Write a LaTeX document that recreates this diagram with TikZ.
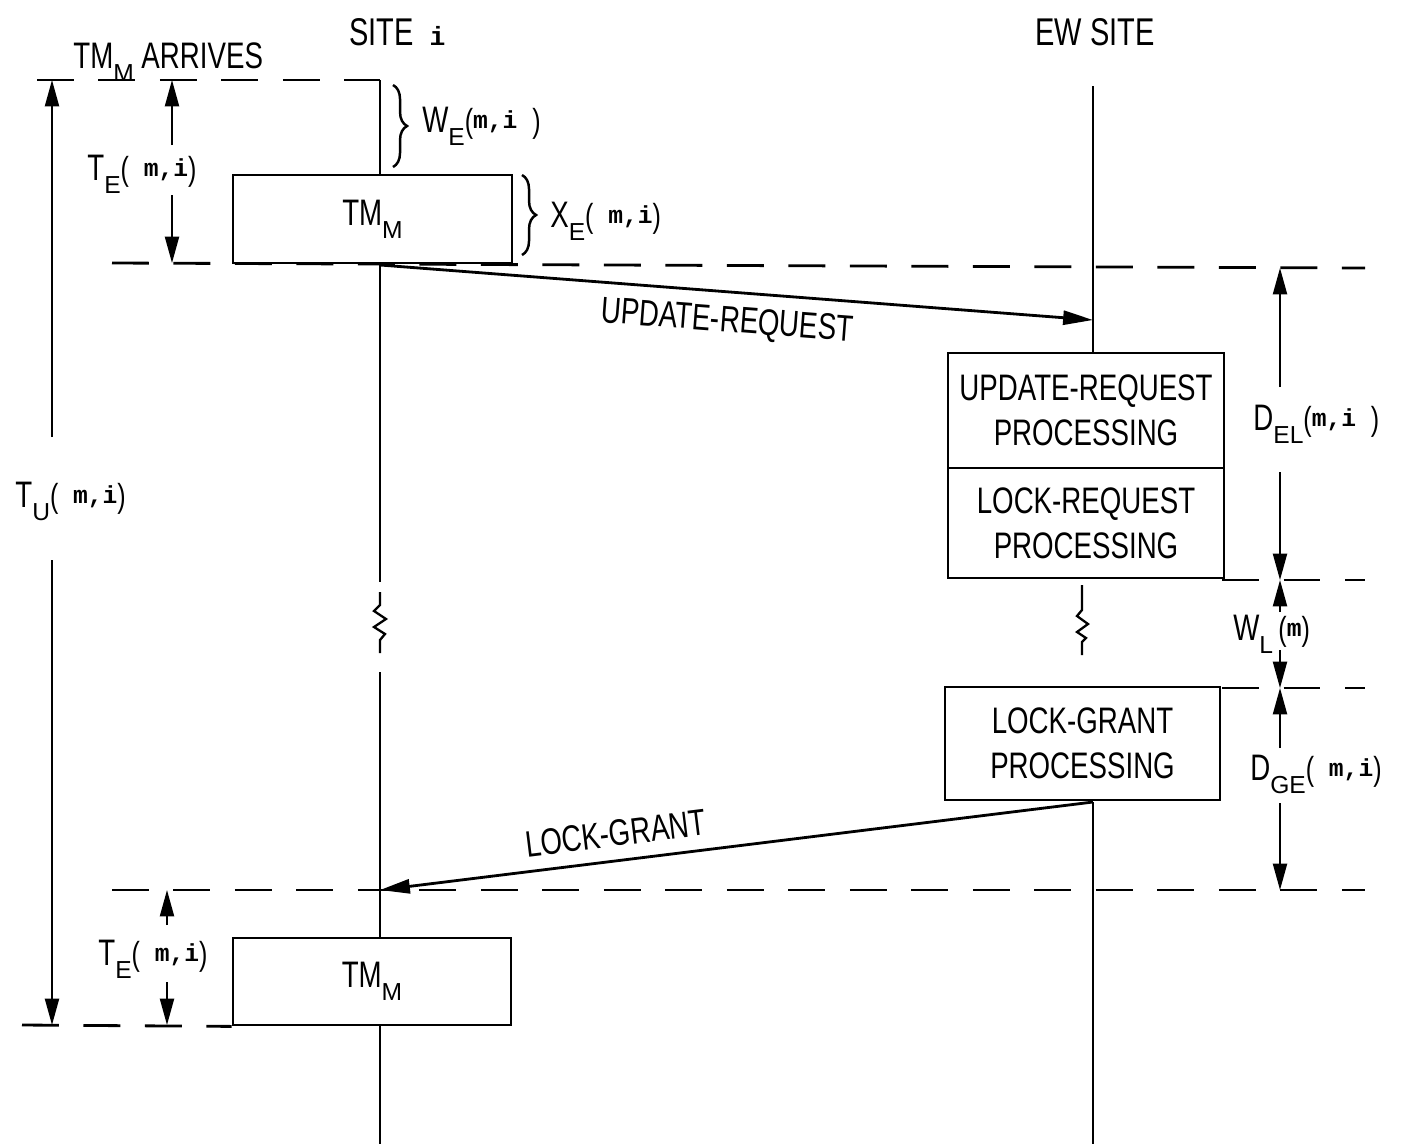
\documentclass[tikz,border=0pt]{standalone}
\usepackage{fontspec}
\setmainfont[FakeStretch=0.75]{Liberation Sans}
\newfontfamily\monof{Liberation Mono}
\newfontfamily\subf{Liberation Sans}
\usetikzlibrary{arrows.meta,decorations.pathreplacing}
\newcommand\mainsz{\fontsize{21}{25.5}\selectfont}
\newcommand\headsz{\fontsize{22}{25}\selectfont}
\newcommand\lowsub[1]{\raisebox{-7.5pt}{\subf\fontsize{14}{14}\selectfont #1}}
\newcommand\argsm[1]{{\fontsize{19}{19}\selectfont(}\raisebox{2pt}{\monof\bfseries\fontsize{14}{14}\selectfont #1}{\fontsize{19}{19}\selectfont)}}
\tikzset{
  life/.style={line width=1.3pt},
  procbox/.style={draw, line width=1.6pt, inner sep=0pt, align=center, font=\mainsz},
  dashline/.style={line width=1.6pt, dash pattern=on 21pt off 14pt},
  dim/.style={line width=1.1pt, -{Triangle[length=15pt,width=8pt]}},
  msg/.style={line width=1.6pt, -{Triangle[length=17pt,width=8pt]}},
  lbl/.style={inner sep=0pt, anchor=base west, font=\mainsz},
  bracestyle/.style={decorate, decoration={brace, amplitude=8pt}, line width=1.4pt},
}
\begin{document}
\begin{tikzpicture}[x=0.02cm, y=-0.02cm]
\useasboundingbox (0,0) rectangle (1413,1144);

% headers
\node[lbl, font=\headsz] (sitei) at (349,45) {SITE\hspace{9pt}{\monof\bfseries\fontsize{15}{15}\selectfont i}};
\node[lbl, font=\headsz] (ewsite) at (1035,45) {EW SITE};
\node[lbl] (arrives) at (73,68) {TM\lowsub{M} ARRIVES};

% boxes
\node[procbox, minimum width=5.58cm, minimum height=1.76cm] (tm1) at (372.5,219) {TM\lowsub{M}};
\node[procbox, minimum width=5.52cm, minimum height=2.3cm] (ur) at (1086,410.5) {UPDATE-REQUEST\\PROCESSING};
\node[procbox, minimum width=5.52cm, minimum height=2.2cm] (lr) at (1086,523) {LOCK-REQUEST\\PROCESSING};
\node[procbox, minimum width=5.5cm, minimum height=2.26cm] (lg) at (1082.5,743.5) {LOCK-GRANT\\PROCESSING};
\node[procbox, minimum width=5.56cm, minimum height=1.74cm] (tm2) at (372,981.5) {TM\lowsub{M}};

% lifeline coordinates
\coordinate (iTop) at (380,80);
\coordinate (iMsg) at (380,265);
\coordinate (iBrk1) at (380,582);
\coordinate (iBrk2) at (380,672);
\coordinate (iIn) at (380,890);
\coordinate (iEnd) at (380,1144);
\coordinate (ewTop) at (1093,86);
\coordinate (ewIn) at (1093,320);
\coordinate (ewOut) at (1093,802);
\coordinate (ewEnd) at (1093,1144);

% site i lifeline
\draw[life] (iTop) -- (iTop |- tm1.north);
\draw[life] (iTop |- tm1.south) -- (iBrk1);
\draw[life] (380,592) -- (380,605) -- (374,611) -- (386,619) -- (374,627) -- (385,634) -- (380,640) -- (380,653);
\draw[life] (iBrk2) -- (iBrk2 |- tm2.north);
\draw[life] (iBrk2 |- tm2.south) -- (iEnd);

% EW lifeline
\draw[life] (ewTop) -- (ewTop |- ur.north);
\draw[life] (1082,585) -- (1082,610) -- (1077,616) -- (1088,624) -- (1077,632) -- (1086,638) -- (1082,642) -- (1082,655);
\draw[life] (ewOut) -- (ewEnd);

% dashed reference lines
\draw[dashline] (37,80) -- (380,80);
\draw[dashline] (112,263) -- (1365,268);
\draw[dashline] (1222,580) -- (1365,580);
\draw[dashline] (1222,688) -- (1365,688);
\draw[dashline] (112,890) -- (1365,890);
\draw[dashline] (22,1025) -- (tm2.south west);

% messages
\draw[msg] (iMsg) -- (ewIn) node[pos=0.49, sloped, below=4pt, font=\mainsz] (urlab) {UPDATE-REQUEST};
\draw[msg] (ewOut) -- (iIn) node[pos=0.665, sloped, above=4pt, font=\mainsz] (lglab) {LOCK-GRANT};

% braces
\draw[bracestyle] (393,85) -- (393,167);
\draw[bracestyle] (522,175) -- (522,255);
\node[lbl] (we) at (422,132) {W\lowsub{E}\argsm{m,i }};
\node[lbl] (xe) at (550,227) {X\lowsub{E}\argsm{ m,i}};

% T_U
\node[lbl] (tu) at (15,507) {T\lowsub{U}\argsm{ m,i}};
\draw[dim] (52,437) -- (52,80);
\draw[dim] (52,560) -- (52,1025);

% T_E top
\node[lbl] (te1) at (87,180) {T\lowsub{E}\argsm{ m,i}};
\draw[dim] (172,145) -- (172,80);
\draw[dim] (172,195) -- (172,263);

% T_E bottom
\node[lbl] (te2) at (98,965) {T\lowsub{E}\argsm{ m,i}};
\draw[dim] (167,925) -- (167,890);
\draw[dim] (167,982) -- (167,1025);

% D_EL
\node[lbl] (del) at (1253,430) {D\lowsub{EL}\argsm{m,i }};
\draw[dim] (1280,387) -- (1280,268);
\draw[dim] (1280,472) -- (1280,580);

% W_L
\node[lbl] (wl) at (1233,640) {W\lowsub{L}\hspace{3pt}\argsm{m}};
\draw[dim] (1280,612) -- (1280,580);
\draw[dim] (1280,650) -- (1280,688);

% D_GE
\node[lbl] (dge) at (1250,780) {D\lowsub{GE}\argsm{ m,i}};
\draw[dim] (1280,748) -- (1280,688);
\draw[dim] (1280,803) -- (1280,890);
\end{tikzpicture}
\end{document}
